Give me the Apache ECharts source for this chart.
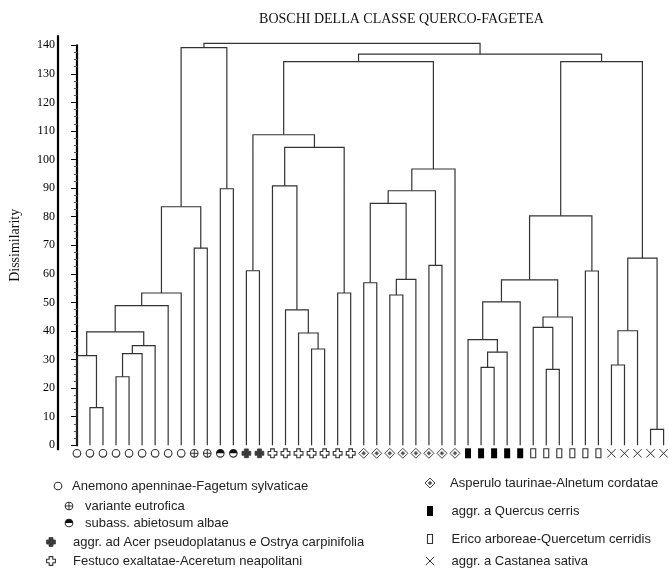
<!DOCTYPE html>
<html>
<head>
<meta charset="utf-8">
<script src="https://cdn.jsdelivr.net/npm/echarts@6/dist/echarts.min.js"></script>
<style>
html,body{margin:0;padding:0;background:#fff}
#c{width:669px;height:570px}
</style>
</head>
<body>
<div id="c"></div>
<script>
// ---------------- data ----------------
const titleText = 'BOSCHI DELLA CLASSE QUERCO-FAGETEA';
const yAxisName = 'Dissimilarity';
const yMin = 0, yMax = 140, yStep = 10;

// leaf order (left to right), symbol code per leaf
// O Anemono, P variante eutrofica, H subass. abietosum, F aggr. ad Acer, C Festuco,
// D Asperulo, B aggr. Quercus cerris, R Erico, X Castanea
const leafTypes = [
  'O','O','O','O','O','O','O','O','O',
  'P','P',
  'H','H',
  'F','F',
  'C','C','C','C','C','C','C',
  'D','D','D','D','D','D','D','D',
  'B','B','B','B','B',
  'R','R','R','R','R','R',
  'X','X','X','X','X'
];

// linkage: [child A, child B, dissimilarity]; ids >= 46 refer to earlier merges (46 + k)
const merges = [
  [1, 2, 13.2],    // 46
  [0, 46, 31.4],   // 47
  [3, 4, 24.0],    // 48
  [48, 5, 32.1],   // 49
  [49, 6, 34.9],   // 50
  [47, 50, 39.7],  // 51
  [51, 7, 48.9],   // 52
  [52, 8, 53.3],   // 53
  [9, 10, 69.0],   // 54
  [53, 54, 83.5],  // 55
  [11, 12, 89.8],  // 56
  [55, 56, 139.2], // 57
  [13, 14, 61.1],  // 58
  [18, 19, 33.7],  // 59
  [17, 59, 39.3],  // 60
  [16, 60, 47.4],  // 61
  [15, 61, 90.8],  // 62
  [20, 21, 53.3],  // 63
  [62, 63, 104.3], // 64
  [58, 64, 108.7], // 65
  [22, 23, 56.9],  // 66
  [24, 25, 52.6],  // 67
  [67, 26, 58.1],  // 68
  [66, 68, 84.7],  // 69
  [27, 28, 63.0],  // 70
  [69, 70, 89.1],  // 71
  [71, 29, 96.7],  // 72
  [65, 72, 134.3], // 73
  [31, 32, 27.3],  // 74
  [74, 33, 32.6],  // 75
  [30, 75, 37.0],  // 76
  [76, 34, 50.2],  // 77
  [36, 37, 26.6],  // 78
  [35, 78, 41.3],  // 79
  [79, 38, 44.9],  // 80
  [77, 80, 57.9],  // 81
  [39, 40, 61.0],  // 82
  [81, 82, 80.3],  // 83
  [41, 42, 28.1],  // 84
  [84, 43, 40.1],  // 85
  [44, 45, 5.6],   // 86
  [85, 86, 65.5],  // 87
  [83, 87, 134.3], // 88
  [73, 88, 136.9], // 89
  [57, 89, 140.7]  // 90
];

const legendLeftCodes  = ['O', 'P', 'H', 'F', 'C'];
const legendLeftLabels = [
  'Anemono apenninae-Fagetum sylvaticae',
  'variante eutrofica',
  'subass. abietosum albae',
  'aggr. ad Acer pseudoplatanus e Ostrya carpinifolia',
  'Festuco exaltatae-Aceretum neapolitani'
];
const legendRightCodes  = ['D', 'B', 'R', 'X'];
const legendRightLabels = [
  'Asperulo taurinae-Alnetum cordatae',
  'aggr. a Quercus cerris',
  'Erico arboreae-Quercetum cerridis',
  'aggr. a Castanea sativa'
];

// ---------------- build ----------------
const nLeaf = leafTypes.length;
const nodeX = [], nodeH = [];
for (let i = 0; i < nLeaf; i++) { nodeX[i] = i; nodeH[i] = 0; }
const linkData = merges.map((m, k) => {
  const a = m[0], b = m[1], h = m[2];
  const id = nLeaf + k;
  nodeX[id] = (nodeX[a] + nodeX[b]) / 2;
  nodeH[id] = h;
  return [nodeX[a], nodeH[a], nodeX[b], nodeH[b], h];
});
const leafData = leafTypes.map((t, i) => [i, 0, t]);

const S = '#333';
function sym(code, cx, cy) {
  const ln = (x1, y1, x2, y2, c) => ({ type: 'line', shape: { x1, y1, x2, y2 }, style: { stroke: c || S, lineWidth: 1 } });
  const r = 3.8;
  const plusPts = (a, L) => [[-a,-L],[a,-L],[a,-a],[L,-a],[L,a],[a,a],[a,L],[-a,L],[-a,a],[-L,a],[-L,-a],[-a,-a]].map(p => [cx + p[0], cy + p[1]]);
  switch (code) {
    case 'O':
      return [{ type: 'circle', shape: { cx, cy, r }, style: { fill: '#fff', stroke: S, lineWidth: 1.1 } }];
    case 'P':
      return [{ type: 'circle', shape: { cx, cy, r }, style: { fill: '#fff', stroke: S, lineWidth: 1.1 } },
        ln(cx - r, cy, cx + r, cy), ln(cx, cy - r, cx, cy + r)];
    case 'H':
      return [{ type: 'circle', shape: { cx, cy, r }, style: { fill: '#fff', stroke: S, lineWidth: 1.1 } },
        { type: 'sector', shape: { cx, cy, r0: 0, r: r, startAngle: Math.PI, endAngle: Math.PI * 2 }, style: { fill: '#111' } }];
    case 'F':
      return [{ type: 'polygon', shape: { points: plusPts(2, 4.4) }, style: { fill: '#3a3a3a', stroke: '#3a3a3a', lineWidth: 0.8 } }];
    case 'C':
      return [{ type: 'polygon', shape: { points: plusPts(1.8, 4.4) }, style: { fill: '#fff', stroke: S, lineWidth: 1.1 } }];
    case 'D':
      return [{ type: 'polygon', shape: { points: [[cx, cy - 5], [cx + 5, cy], [cx, cy + 5], [cx - 5, cy]] }, style: { fill: '#fff', stroke: '#444', lineWidth: 1 } },
        { type: 'polygon', shape: { points: [[cx, cy - 2], [cx + 2, cy], [cx, cy + 2], [cx - 2, cy]] }, style: { fill: '#555', stroke: '#555', lineWidth: 0.5 } }];
    case 'B':
      return [{ type: 'rect', shape: { x: cx - 3, y: cy - 5, width: 6, height: 10 }, style: { fill: '#000' } }];
    case 'R':
      return [{ type: 'rect', shape: { x: cx - 2.5, y: cy - 4.5, width: 5, height: 9 }, style: { fill: '#fff', stroke: S, lineWidth: 1.1 } }];
    case 'X':
      return [ln(cx - 4.2, cy - 4.2, cx + 4.2, cy + 4.2), ln(cx - 4.2, cy + 4.2, cx + 4.2, cy - 4.2)];
  }
  return [];
}

const chart = echarts.init(document.getElementById('c'), null, { renderer: 'canvas' });

const legendFont = '13px "Liberation Sans", Arial, sans-serif';
const graphics = [];
graphics.push({ type: 'text', x: 401.5, y: 19, style: { text: titleText, font: '14px "Liberation Serif", "Times New Roman", serif', fill: '#111', align: 'center', verticalAlign: 'middle' } });
const leftRows = [486, 506, 523, 542, 561];
const leftSymX = [58, 69, 69, 51, 51];
const leftTxtX = [72, 85, 85, 73, 73];
legendLeftCodes.forEach((c, i) => {
  graphics.push({ type: 'group', children: sym(c, leftSymX[i], leftRows[i]) });
  graphics.push({ type: 'text', x: leftTxtX[i], y: leftRows[i], style: { text: legendLeftLabels[i], font: legendFont, fill: '#222', verticalAlign: 'middle' } });
});
const rightRows = [483, 511, 539, 561];
legendRightCodes.forEach((c, i) => {
  graphics.push({ type: 'group', children: sym(c, 430, rightRows[i]) });
  graphics.push({ type: 'text', x: i === 0 ? 450 : 451.5, y: rightRows[i], style: { text: legendRightLabels[i], font: legendFont, fill: '#222', verticalAlign: 'middle' } });
});

const xMin = -1.45, xMax = 45;

chart.setOption({
  animation: false,
  backgroundColor: '#fff',
  grid: { left: 56.7, right: 5.4, top: 45.3, bottom: 124.7, containLabel: false },
  xAxis: { type: 'value', min: xMin, max: xMax, show: false },
  yAxis: {
    type: 'value', min: yMin, max: yMax, interval: yStep,
    name: yAxisName, nameLocation: 'middle', nameGap: 36,
    nameTextStyle: { fontFamily: '"Liberation Serif", "Times New Roman", serif', fontSize: 14, color: '#111' },
    axisLine: { show: true, lineStyle: { color: '#000', width: 2.2 } },
    axisTick: { show: true, length: 6, lineStyle: { color: '#000', width: 1 } },
    minorTick: { show: true, splitNumber: 4, length: 3, lineStyle: { color: '#555', width: 1 } },
    axisLabel: { margin: 3, fontFamily: '"Liberation Serif", "Times New Roman", serif', fontSize: 12, color: '#000' },
    splitLine: { show: false }
  },
  graphic: graphics,
  series: [
    {
      type: 'custom', name: 'axisExt', clip: false, silent: true,
      data: [[xMin]],
      renderItem(params, api) {
        const top = api.coord([xMin, yMax]);
        const bot = api.coord([xMin, yMin]);
        return { type: 'line', shape: { x1: top[0], y1: top[1] - 10, x2: bot[0], y2: bot[1] + 5 }, style: { stroke: '#000', lineWidth: 2.2 } };
      }
    },
    {
      type: 'custom', name: 'links', clip: false, silent: true,
      encode: { x: [0, 2], y: [1, 3, 4] },
      data: linkData,
      renderItem(params, api) {
        const p1 = api.coord([api.value(0), api.value(1)]);
        const p2 = api.coord([api.value(0), api.value(4)]);
        const p3 = api.coord([api.value(2), api.value(4)]);
        const p4 = api.coord([api.value(2), api.value(3)]);
        return { type: 'polyline', shape: { points: [p1, p2, p3, p4] }, style: { stroke: S, lineWidth: 1.2, fill: null } };
      }
    },
    {
      type: 'custom', name: 'leaves', clip: false, silent: true,
      encode: { x: 0, y: 1 },
      data: leafData,
      renderItem(params, api) {
        const p = api.coord([api.value(0), api.value(1)]);
        const code = leafTypes[params.dataIndex];
        return { type: 'group', children: sym(code, p[0], p[1] + 8) };
      }
    }
  ]
});
</script>
</body>
</html>
